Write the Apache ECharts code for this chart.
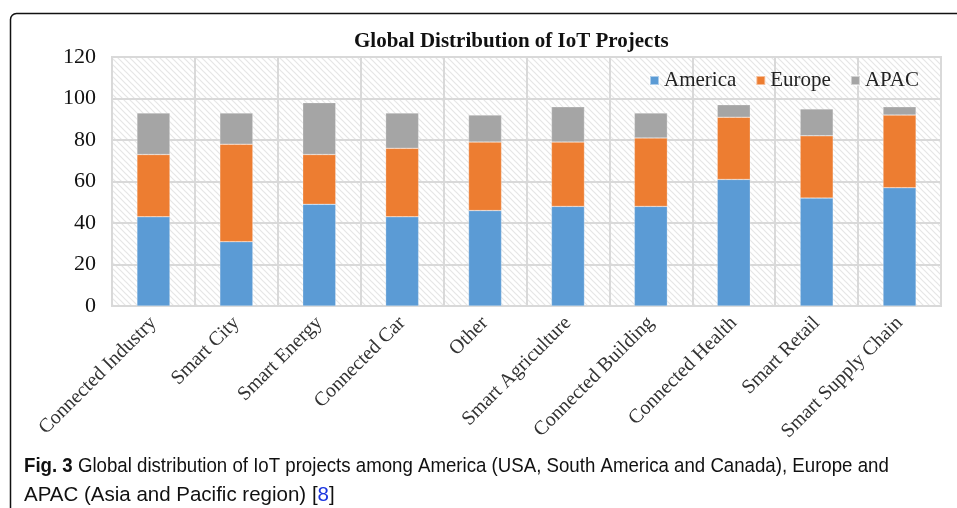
<!DOCTYPE html>
<html>
<head>
<meta charset="utf-8">
<script src="https://cdn.jsdelivr.net/npm/echarts@6/dist/echarts.min.js"></script>
<style>
  html, body { margin: 0; padding: 0; background: #fff; }
  #chart { width: 957px; height: 508px; }
</style>
</head>
<body>
<div id="chart"></div>
<script>
let categories = ['Connected Industry', 'Smart City', 'Smart Energy', 'Connected Car', 'Other',
    'Smart Agriculture', 'Connected Building', 'Connected Health', 'Smart Retail', 'Smart Supply Chain'];
let america = [43, 31, 49, 43, 46, 48, 48, 61, 52, 57];
let europe = [30, 47, 24, 33, 33, 31, 33, 30, 30, 35];
let apac = [20, 15, 25, 17, 13, 17, 12, 6, 13, 4];
let yTicks = [0, 20, 40, 60, 80, 100, 120];

// diagonal hatch for the plot background
function makeHatch() {
    let size = 6;
    let c = document.createElement('canvas');
    c.width = size;
    c.height = size;
    let ctx = c.getContext('2d');
    ctx.fillStyle = '#ffffff';
    ctx.fillRect(0, 0, size, size);
    ctx.strokeStyle = '#e6e6e6';
    ctx.lineWidth = 1.2;
    ctx.beginPath();
    ctx.moveTo(-1, -1);
    ctx.lineTo(size + 1, size + 1);
    ctx.moveTo(-1, size - 1);
    ctx.lineTo(1, size + 1);
    ctx.moveTo(size - 1, -1);
    ctx.lineTo(size + 1, 1);
    ctx.stroke();
    return c;
}

let serif = '"Liberation Serif", "Times New Roman", serif';
let sans = '"Liberation Sans", Arial, sans-serif';
let gridColor = '#d9d9d9';

let chart = echarts.init(document.getElementById('chart'));

function barSeries(name, values, color) {
    return {
        name: name,
        type: 'bar',
        stack: 'total',
        barWidth: 33,
        data: values,
        itemStyle: {
            color: color,
            borderColor: 'rgba(255,255,255,0.5)',
            borderWidth: 0.5
        },
        emphasis: { disabled: true }
    };
}

chart.setOption({
    animation: false,
    title: {
        text: 'Global Distribution of IoT Projects',
        left: 349,
        top: 26,
        textStyle: {
            fontFamily: serif,
            fontWeight: 'bold',
            fontSize: 21,
            color: '#111'
        }
    },
    legend: {
        data: ['America', 'Europe', 'APAC'],
        left: 644,
        top: 65,
        icon: 'rect',
        itemWidth: 9,
        itemHeight: 9,
        itemGap: 19,
        textStyle: {
            fontFamily: serif,
            fontSize: 21,
            color: '#222'
        }
    },
    grid: {
        left: 112,
        right: 16,
        top: 57,
        bottom: 202,
        show: true,
        backgroundColor: { image: makeHatch(), repeat: 'repeat' },
        borderColor: gridColor,
        borderWidth: 2
    },
    xAxis: {
        type: 'category',
        data: categories,
        axisLine: { lineStyle: { color: gridColor, width: 2 } },
        axisTick: { show: false },
        splitLine: { show: true, interval: 0, lineStyle: { color: gridColor, width: 2 } },
        axisLabel: {
            interval: 0,
            rotate: 45,
            margin: 14,
            fontFamily: serif,
            fontSize: 20,
            color: '#333'
        }
    },
    yAxis: {
        type: 'value',
        min: yTicks[0],
        max: yTicks[yTicks.length - 1],
        interval: 20,
        axisLine: { show: false },
        axisTick: { show: false },
        splitLine: { lineStyle: { color: gridColor, width: 2 } },
        axisLabel: {
            margin: 16,
            fontFamily: serif,
            fontSize: 22,
            color: '#111'
        }
    },
    series: [
        barSeries('America', america, '#5b9bd5'),
        barSeries('Europe', europe, '#ed7d31'),
        barSeries('APAC', apac, '#a5a5a5')
    ],
    graphic: [
        {
            type: 'rect',
            left: 8,
            top: 11,
            shape: { width: 980, height: 520, r: 6 },
            style: { fill: 'none', stroke: '#111', lineWidth: 1.5 },
            z: 100
        },
        {
            type: 'text',
            x: 24,
            y: 466,
            scaleX: 0.91,
            style: {
                text: '{b|Fig. 3} Global distribution of IoT projects among America (USA, South America and Canada), Europe and',
                rich: {
                    b: { fontWeight: 'bold', fontFamily: sans, fontSize: 20.5, fill: '#111' }
                },
                fontFamily: sans,
                fontSize: 20.5,
                verticalAlign: 'middle',
                fill: '#111'
            }
        },
        {
            type: 'text',
            x: 24,
            y: 495,
            style: {
                text: 'APAC (Asia and Pacific region) [{l|8}]',
                rich: {
                    l: { fontFamily: sans, fontSize: 20.5, fill: '#1a35e0' }
                },
                fontFamily: sans,
                fontSize: 20.5,
                verticalAlign: 'middle',
                fill: '#111'
            }
        }
    ]
});
</script>
</body>
</html>
